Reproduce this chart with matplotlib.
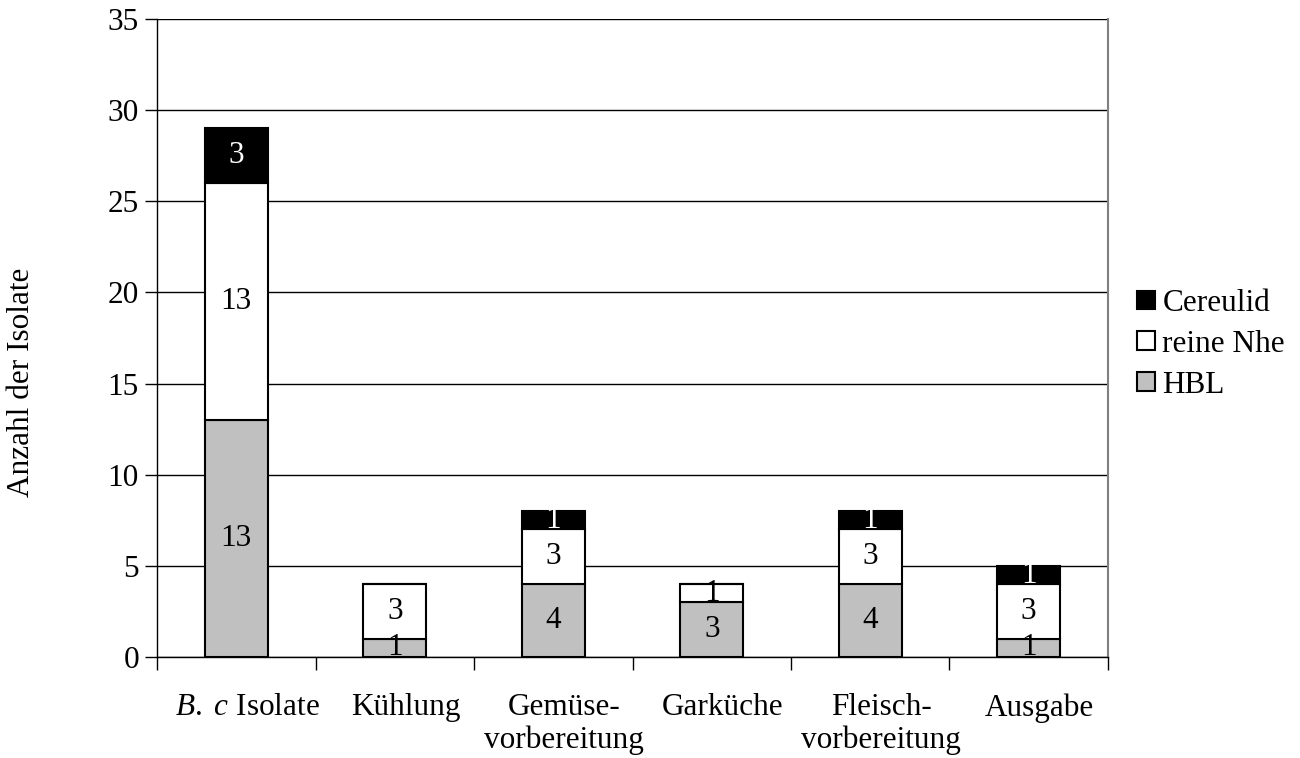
import matplotlib.pyplot as plt
import matplotlib.transforms as mtransforms
import numpy as np

plt.rcParams['font.family'] = ['Liberation Serif', 'DejaVu Serif']
plt.rcParams['mathtext.fontset'] = 'custom'
plt.rcParams['mathtext.rm'] = 'Liberation Serif'
plt.rcParams['mathtext.it'] = 'Liberation Serif:italic'

categories = ["$\\mathit{B.\\ c}$ Isolate", "Kühlung", "Gemüse-\nvorbereitung",
              "Garküche", "Fleisch-\nvorbereitung", "Ausgabe"]
hbl = [13, 1, 4, 3, 4, 1]
nhe = [13, 3, 3, 1, 3, 3]
cereulid = [3, 0, 1, 0, 1, 1]

fig = plt.figure(figsize=(13, 7.58), dpi=100)
ax = fig.add_axes([0.1208, 0.1332, 0.7315, 0.8417])

x = np.arange(len(categories))
w = 0.4
fs = 22.5

b1 = ax.bar(x, hbl, w, color="#c0c0c0", edgecolor="black", linewidth=1.5, label="HBL", zorder=3)
b2 = ax.bar(x, nhe, w, bottom=hbl, color="white", edgecolor="black", linewidth=1.5,
            label="reine Nhe", zorder=3)
bottom3 = np.array(hbl) + np.array(nhe)
b3 = ax.bar(x, cereulid, w, bottom=bottom3, color="black", edgecolor="black", linewidth=1.5,
            label="Cereulid", zorder=3)

# value labels centred in each segment
for i in range(len(x)):
    segs = [(hbl[i], 0, "black"), (nhe[i], hbl[i], "black"), (cereulid[i], bottom3[i], "white")]
    for val, base, col in segs:
        if val > 0:
            ax.text(x[i], base + val / 2, str(val), ha="center", va="center",
                    fontsize=fs, color=col, zorder=4)

ax.set_xlim(-0.5, len(x) - 0.5)
ax.set_ylim(0, 35)
ax.set_yticks(range(0, 36, 5))
ax.yaxis.grid(True, color="black", linewidth=1)
ax.set_axisbelow(True)

ax.set_xticks(x)
ax.set_xticklabels(categories, fontsize=fs, linespacing=1.15)
ax.set_xticks(np.arange(-0.5, len(x), 1), minor=True)
ax.tick_params(axis="x", which="major", length=0, pad=26)
ax.tick_params(axis="x", which="minor", length=9, width=1, direction="out")
ax.tick_params(axis="y", length=9, width=1, direction="out", labelsize=fs, pad=4)

# category labels sit slightly right of the bar centres
shift = mtransforms.ScaledTranslation(0.11, 0, fig.dpi_scale_trans)
for lbl in ax.get_xticklabels():
    lbl.set_transform(lbl.get_transform() + shift)

ax.spines["top"].set_visible(False)
ax.spines["right"].set_color("#808080")
ax.spines["right"].set_linewidth(1.5)
ax.spines["left"].set_linewidth(1)
ax.spines["bottom"].set_linewidth(1)

fig.text(22 / 1300, 1 - 382 / 758, "Anzahl der Isolate", rotation=90,
         ha="center", va="center", fontsize=fs)

ax.legend(handles=[b3, b2, b1], loc="center left", bbox_to_anchor=(1.008, 0.49),
          frameon=False, fontsize=fs, handlelength=0.55, handleheight=0.55,
          handletextpad=0.25, labelspacing=0.38, borderaxespad=0.3)

fig.savefig("out.png", dpi=100)
